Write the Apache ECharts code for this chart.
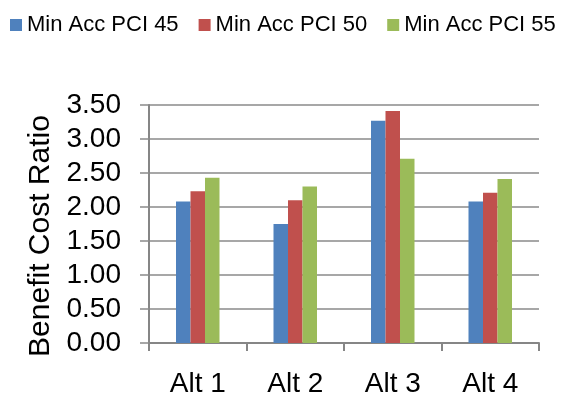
<!DOCTYPE html>
<html>
<head>
<meta charset="utf-8">
<script src="https://cdn.jsdelivr.net/npm/echarts@6/dist/echarts.min.js"></script>
<style>
  html, body { margin: 0; padding: 0; background: #ffffff; }
  #chart { width: 562px; height: 403px; }
</style>
</head>
<body>
<div id="chart"></div>
<script>
// Benefit cost ratio per alternative, one series per minimum acceptable PCI
const categories = ['Alt 1', 'Alt 2', 'Alt 3', 'Alt 4'];
const seriesNames = ['Min Acc PCI 45', 'Min Acc PCI 50', 'Min Acc PCI 55'];
const pci45 = [2.08, 1.75, 3.27, 2.08];
const pci50 = [2.23, 2.10, 3.41, 2.21];
const pci55 = [2.43, 2.30, 2.71, 2.41];
const seriesColors = ['#4F81BD', '#C0504D', '#9BBB59'];

const FONT = '"Liberation Sans", Arial, sans-serif';
const GRID_GRAY = '#8a8a8a';

const chart = echarts.init(document.getElementById('chart'), null, { renderer: 'canvas' });

const values = [pci45, pci50, pci55];

chart.setOption({
  animation: false,
  backgroundColor: '#ffffff',
  color: seriesColors,
  legend: {
    top: 9,
    left: 5,
    itemWidth: 12,
    itemHeight: 12,
    itemGap: 20,
    icon: 'rect',
    textStyle: { fontFamily: FONT, fontSize: 22, color: '#000000', padding: [0, 0, 0, 0] },
    data: seriesNames
  },
  grid: {
    left: 149,
    right: 23,
    top: 105,
    bottom: 60,
    containLabel: false
  },
  xAxis: {
    type: 'category',
    data: categories,
    axisLine: { show: true, lineStyle: { color: '#868686', width: 2 } },
    axisTick: { show: true, alignWithLabel: false, length: 8, lineStyle: { color: '#868686', width: 2 } },
    axisLabel: { fontFamily: FONT, fontSize: 28, color: '#000000', margin: 27 },
    splitLine: { show: false }
  },
  yAxis: {
    type: 'value',
    min: 0,
    max: 3.5,
    interval: 0.5,
    name: 'Benefit Cost Ratio',
    nameLocation: 'middle',
    nameGap: 93,
    nameRotate: 90,
    nameTextStyle: { fontFamily: FONT, fontSize: 30, color: '#000000', padding: [0, 24, 0, 0] },
    axisLine: { show: true, lineStyle: { color: '#868686', width: 2 } },
    axisTick: { show: true, length: 9, lineStyle: { color: GRID_GRAY, width: 1.5 } },
    axisLabel: {
      fontFamily: FONT,
      fontSize: 28,
      color: '#000000',
      margin: 28,
      formatter: v => v.toFixed(2)
    },
    splitLine: { show: true, lineStyle: { color: GRID_GRAY, width: 1.5 } }
  },
  series: seriesNames.map((name, i) => ({
    name: name,
    type: 'bar',
    data: values[i],
    barWidth: 14.5,
    barGap: '0%',
    itemStyle: { color: seriesColors[i] }
  }))
});
</script>
</body>
</html>
